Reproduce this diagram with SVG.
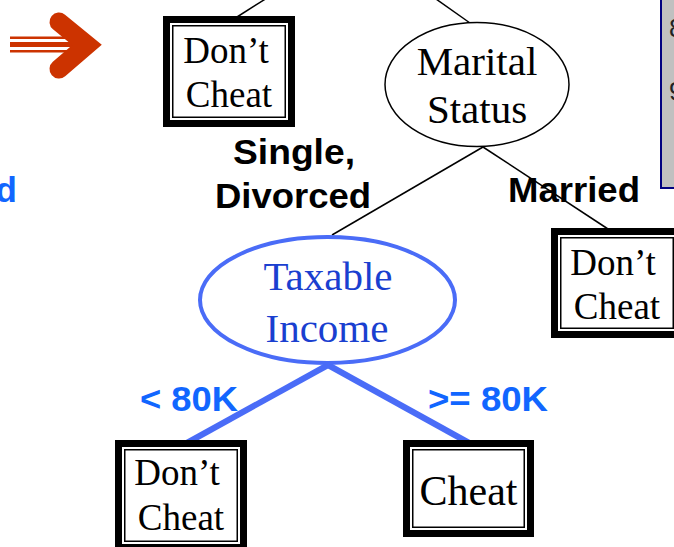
<svg xmlns="http://www.w3.org/2000/svg" width="674" height="547" viewBox="0 0 674 547">
<defs>
<style>
.bg{fill:#ffffff}
.outer{fill:#ffffff;stroke:#000000;stroke-width:7}
.inner{fill:none;stroke:#000000;stroke-width:1.5}
.leaf{font-family:"Liberation Serif","Times New Roman",serif;font-size:37px;fill:#000000;text-anchor:middle}
.dec{font-family:"Liberation Serif","Times New Roman",serif;font-size:41px;text-anchor:middle}
.edge{stroke:#000000;stroke-width:1.5;fill:none}
.bedge{stroke:#4a6cf7;stroke-width:6;fill:none}
.lbl{font-family:"Liberation Sans",Arial,sans-serif;font-weight:bold;font-size:35px}
</style>
</defs>
<rect class="bg" x="0" y="0" width="674" height="547"/>

<g id="arrow" fill="none" stroke="#cc3300">
<line x1="10" y1="37.7" x2="76" y2="37.7" stroke-width="2.5"/>
<line x1="10" y1="44.5" x2="76" y2="44.5" stroke-width="5"/>
<line x1="10" y1="51.3" x2="76" y2="51.3" stroke-width="2.5"/>
<polyline points="59,22 87,45 59,69" stroke-width="19" stroke-linecap="round" stroke-linejoin="miter" stroke-miterlimit="4"/>
</g>

<g id="panel">
<rect x="661" y="-5" width="30" height="193" fill="#c0c0c0" stroke="#000080" stroke-width="2"/>
<text x="669" y="37" font-family="'Liberation Sans',Arial,sans-serif" font-size="26" fill="#222222">8</text>
<text x="669" y="100" font-family="'Liberation Sans',Arial,sans-serif" font-size="26" fill="#222222">9</text>
</g>

<g id="connectors">
<line class="edge" x1="237" y1="17" x2="267" y2="-2"/>
<line class="edge" x1="470" y1="23" x2="436" y2="-1"/>
<line class="edge" x1="483" y1="147" x2="332" y2="235"/>
<line class="edge" x1="483" y1="147" x2="608" y2="229"/>
<line class="bedge" x1="328" y1="365" x2="185" y2="444"/>
<line class="bedge" x1="328" y1="365" x2="471" y2="444"/>
</g>

<g id="leaf-top">
<rect class="outer" x="166.5" y="19.5" width="125" height="104"/>
<rect class="inner" x="172.75" y="25.75" width="112.5" height="91.5"/>
<text class="leaf" x="226" y="63">Don’t</text>
<text class="leaf" x="229" y="107">Cheat</text>
</g>

<g id="marital-status">
<ellipse cx="477" cy="84.5" rx="92" ry="62" fill="#ffffff" stroke="#000000" stroke-width="1.5"/>
<text class="dec" x="477" y="75" fill="#000000">Marital</text>
<text class="dec" x="477" y="123" fill="#000000">Status</text>
</g>

<g id="leaf-married">
<rect class="outer" x="554.5" y="231.5" width="125" height="103"/>
<rect class="inner" x="560.75" y="237.75" width="112.5" height="90.5"/>
<text class="leaf" x="613" y="275">Don’t</text>
<text class="leaf" x="617" y="319">Cheat</text>
</g>

<g id="taxable-income">
<ellipse cx="327.5" cy="300" rx="127.5" ry="63" fill="#ffffff" stroke="#4a6cf7" stroke-width="4"/>
<text class="dec" x="328" y="290" fill="#1a3fd0">Taxable</text>
<text class="dec" x="327" y="342" fill="#1a3fd0">Income</text>
</g>

<g id="leaf-low">
<rect class="outer" x="118.5" y="443.5" width="125" height="104"/>
<rect class="inner" x="124.75" y="449.75" width="112.5" height="91.5"/>
<text class="leaf" x="177" y="485">Don’t</text>
<text class="leaf" x="181" y="530">Cheat</text>
</g>

<g id="leaf-high">
<rect class="outer" x="406.5" y="443.5" width="124" height="90"/>
<rect class="inner" x="412.75" y="449.75" width="111.5" height="77.5"/>
<text class="leaf" x="468.5" y="505" style="font-size:42px">Cheat</text>
</g>

<g id="labels">
<text class="lbl" x="233" y="164" textLength="122" lengthAdjust="spacingAndGlyphs" fill="#000000">Single,</text>
<text class="lbl" x="215" y="208" textLength="156" lengthAdjust="spacingAndGlyphs" fill="#000000">Divorced</text>
<text class="lbl" x="508" y="202" textLength="132" lengthAdjust="spacingAndGlyphs" fill="#000000">Married</text>
<text class="lbl" x="140" y="411" textLength="98" lengthAdjust="spacingAndGlyphs" fill="#1166ff">&lt; 80K</text>
<text class="lbl" x="428" y="411" textLength="120" lengthAdjust="spacingAndGlyphs" fill="#1166ff">&gt;= 80K</text>
<text class="lbl" x="17" y="202" text-anchor="end" fill="#1166ff">d</text>
</g>
</svg>
